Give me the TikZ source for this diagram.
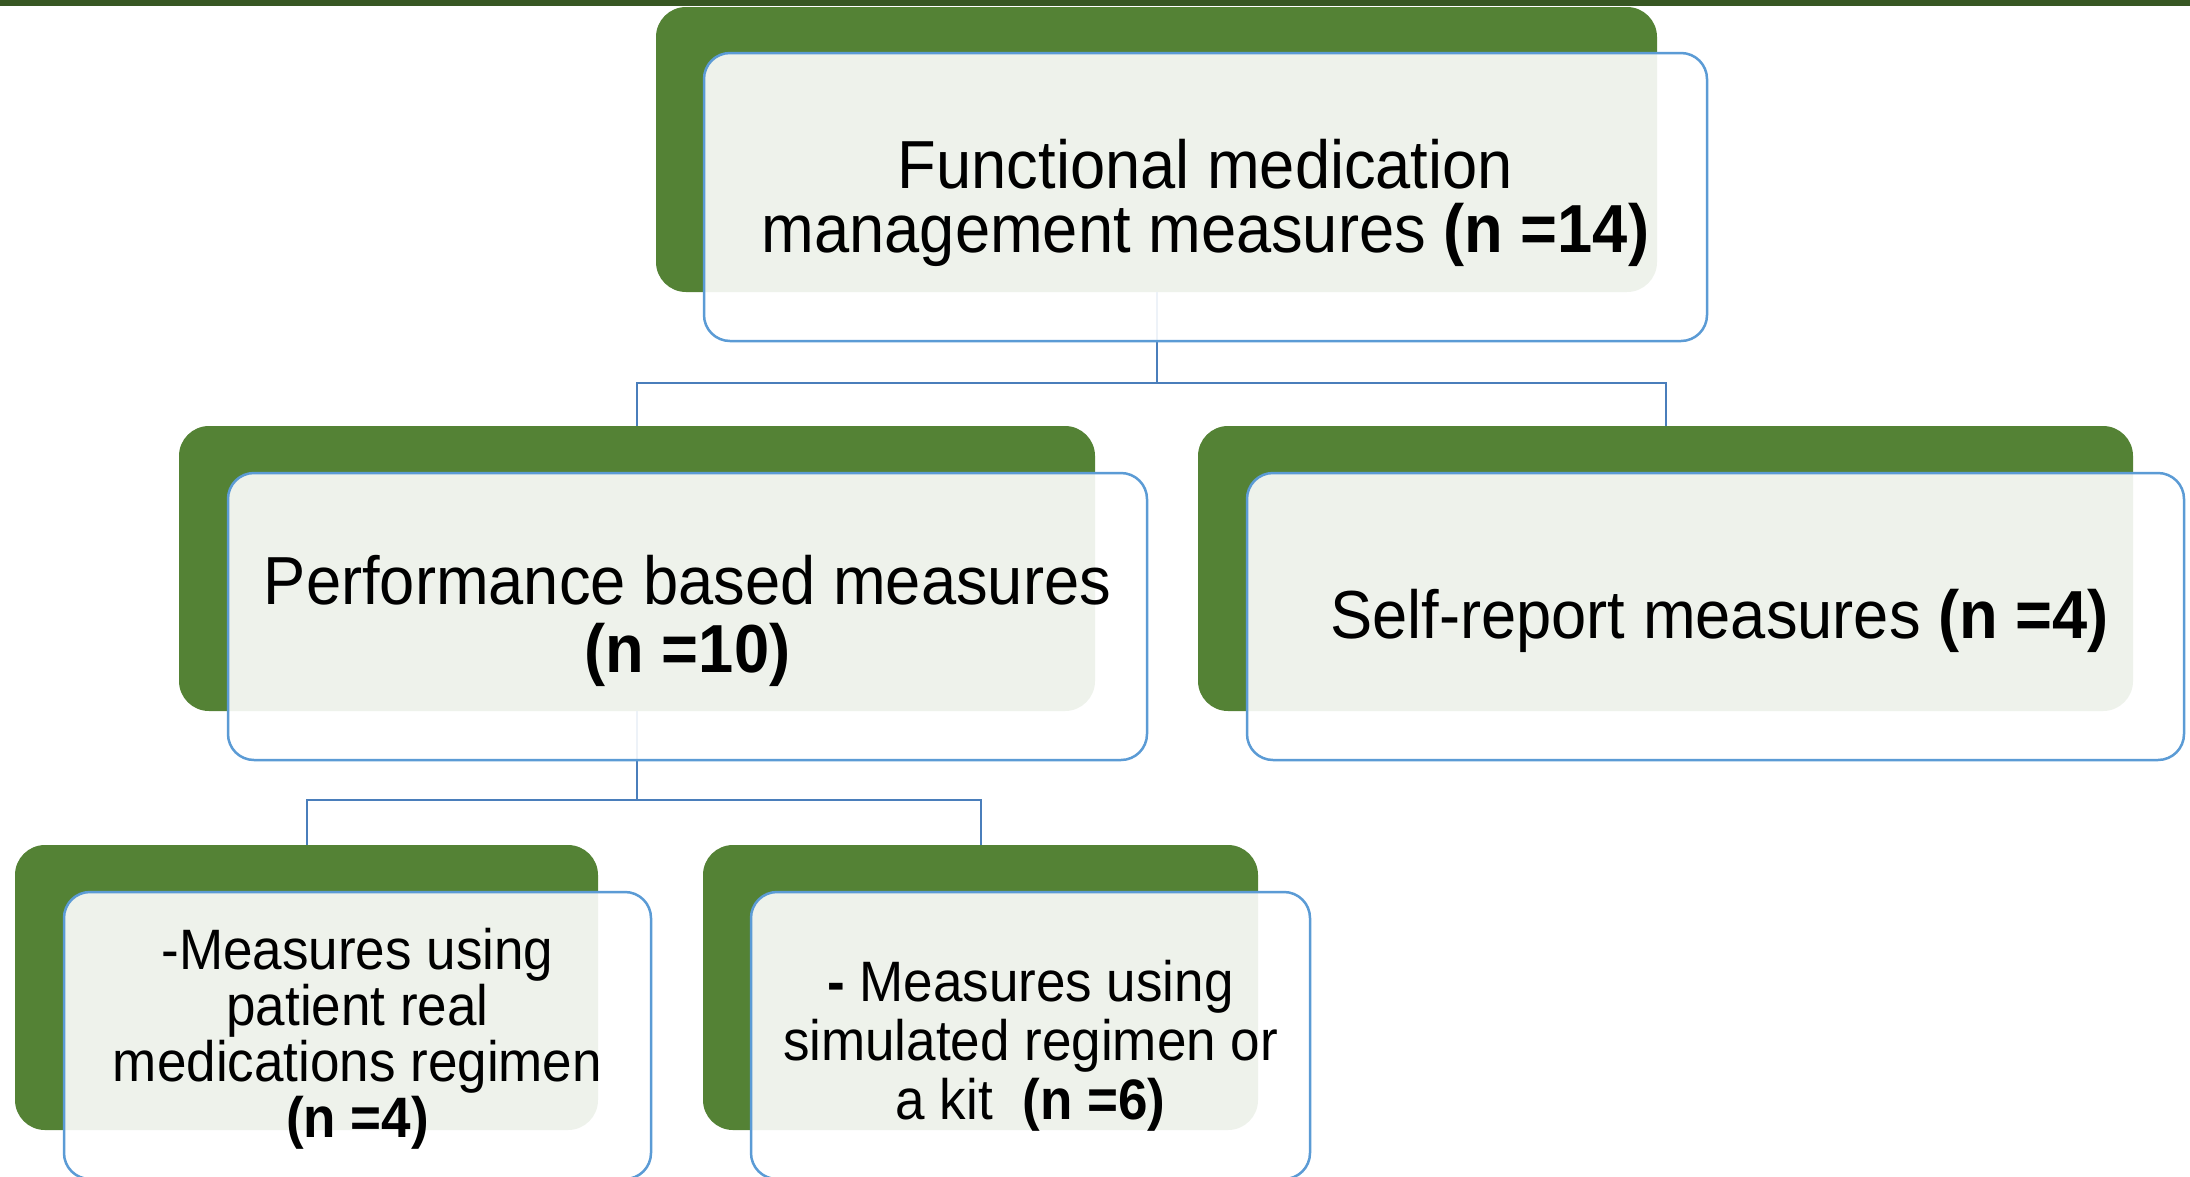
\documentclass[tikz,border=0pt]{standalone}
\usepackage{fontspec}
\setmainfont{Liberation Sans}[FakeStretch=0.93]
\definecolor{gfill}{HTML}{548235}
\definecolor{bar}{HTML}{385723}
\definecolor{bline}{HTML}{5B9BD5}
\definecolor{cline}{HTML}{4A7EBB}
\begin{document}
\begin{tikzpicture}[x=1pt,y=-1pt,
  gbox/.style={rectangle, rounded corners=30pt, fill=gfill, draw=none, inner sep=0pt},
  lbox/.style={rectangle, rounded corners=26pt, fill=white, fill opacity=0.9,
     draw=bline, draw opacity=1, line width=2.5pt, inner sep=0pt},
  txt/.style={align=center, text=black, inner sep=0pt},
  conn/.style={draw=cline, line width=2pt},
  big/.style={font=\fontsize{68}{64}\selectfont},
  mid/.style={font=\fontsize{68}{68}\selectfont},
  small/.style={font=\fontsize{57}{56}\selectfont},
  smallb/.style={font=\fontsize{57}{59}\selectfont}]
\useasboundingbox (0,0) rectangle (2190,1176);
\clip (0,0) rectangle (2190,1176);
\fill[bar] (0,0) rectangle (2190,6);
% green back boxes
\node[gbox, minimum width=1001pt, minimum height=285pt] (g1) at (1156.5,149.5) {};
\node[gbox, minimum width=916pt, minimum height=285pt] (g2) at (637,568.5) {};
\node[gbox, minimum width=935pt, minimum height=285pt] (g3) at (1665.5,568.5) {};
\node[gbox, minimum width=583pt, minimum height=285pt] (g4) at (306.5,987.5) {};
\node[gbox, minimum width=555pt, minimum height=285pt] (g5) at (980.5,987.5) {};
% connectors
\coordinate (h1) at (g1.south |- 0,383);
\coordinate (h2) at (g2.south |- 0,800);
\draw[conn] (g1.south) -- (h1) -| (g2.north);
\draw[conn] (h1) -| (g3.north);
\draw[conn] (g2.south) -- (h2) -| (g4.north);
\draw[conn] (h2) -| (g5.north);
% front boxes
\node[lbox, minimum width=1003pt, minimum height=288pt] (l1) at (1205.5,197) {};
\node[lbox, minimum width=919pt, minimum height=287pt] (l2) at (687.5,616.5) {};
\node[lbox, minimum width=937pt, minimum height=287pt] (l3) at (1715.5,616.5) {};
\node[lbox, minimum width=587pt, minimum height=287pt] (l4) at (357.5,1035.5) {};
\node[lbox, minimum width=559pt, minimum height=287pt] (l5) at (1030.5,1035.5) {};
% texts
\node[txt, big] (t1) at ([yshift=-6pt]l1.center)
  {Functional medication\\management measures \textbf{(n =14)}};
\node[txt, mid] (t2) at ([yshift=-4pt]l2.center)
  {Performance based measures\\\textbf{(n =10)}};
\node[txt, mid] (t3) at ([xshift=4pt,yshift=-4pt]l3.center)
  {Self-report measures \textbf{(n =4)}};
\node[txt, small] (t4) at ([yshift=-3pt]l4.center)
  {-Measures using\\patient real\\medications regimen\\\textbf{(n =4)}};
\node[txt, smallb] (t5) at ([yshift=-10pt]l5.center)
  {\textbf{-} Measures using\\simulated regimen or\\a kit \ \textbf{(n =6)}};
\end{tikzpicture}
\end{document}
